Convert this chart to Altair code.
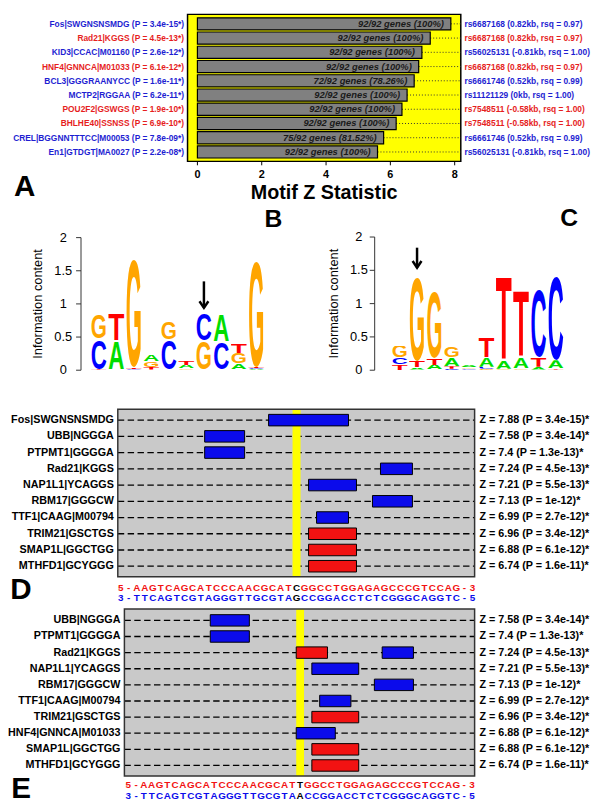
import urllib.parse
import altair as alt
import pandas as pd

FONT = "Liberation Sans"
TXT_BLUE = "#1E1ED2"
TXT_RED = "#E61E1E"
FILL_BLUE = "#0B0BEB"
FILL_RED = "#F21212"
LOGO_COLORS = {"A": "#00DD00", "C": "#0000FF", "G": "#FFA500", "T": "#FF0000"}

# ---------------- Panel A data ----------------
a_motifs = ["Fos|SWGNSNSMDG", "Rad21|KGGS", "KID3|CCAC|M01160", "HNF4|GNNCA|M01033",
            "BCL3|GGGRAANYCC", "MCTP2|RGGAA", "POU2F2|GSWGS", "BHLHE40|SSNSS",
            "CREL|BGGNNTTTCC|M00053", "En1|GTDGT|MA0027"]
a_pvals = ["3.4e-15", "4.5e-13", "2.6e-12", "6.1e-12", "1.6e-11", "6.2e-11",
           "1.9e-10", "6.9e-10", "7.8e-09", "2.2e-08"]
a_z = [7.88, 7.24, 6.98, 6.88, 6.74, 6.52, 6.36, 6.18, 5.79, 5.60]
a_genes = [92, 92, 92, 92, 72, 92, 92, 92, 75, 92]
a_total = 92
a_snp = ["rs6687168", "rs6687168", "rs56025131", "rs6687168", "rs6661746",
         "rs11121129", "rs7548511", "rs7548511", "rs6661746", "rs56025131"]
a_dist = ["0.82kb", "0.82kb", "-0.81kb", "0.82kb", "0.52kb", "0kb",
          "-0.58kb", "-0.58kb", "0.52kb", "-0.81kb"]
a_rsq = ["0.97", "0.97", "1.00", "0.97", "0.99", "1.00", "1.00", "1.00", "0.99", "1.00"]
a_strand = ["blue", "red", "blue", "red", "blue", "blue", "red", "red", "blue", "blue"]
a_ticks = [0, 2, 4, 6, 8]

# ---------------- Panel B / C logo data (bottom -> top) ----------------
b_stacks = [
    [("A", 0.01), ("T", 0.01), ("C", 0.46), ("G", 0.36)],
    [("C", 0.01), ("A", 0.44), ("T", 0.40)],
    [("A", 0.01), ("C", 0.01), ("T", 0.02), ("G", 1.66)],
    [("C", 0.01), ("T", 0.04), ("G", 0.09), ("A", 0.11)],
    [("A", 0.01), ("C", 0.46), ("G", 0.26)],
    [("C", 0.01), ("G", 0.02), ("A", 0.05), ("T", 0.06)],
    [("A", 0.01), ("G", 0.44), ("C", 0.40)],
    [("G", 0.01), ("C", 0.42), ("A", 0.41)],
    [("C", 0.01), ("A", 0.09), ("G", 0.16), ("T", 0.14)],
    [("A", 0.02), ("C", 0.01), ("T", 0.02), ("G", 1.65)],
]
b_arrow_col, b_arrow_top, b_arrow_tip = 7, 1.34, 0.94

c_stacks = [
    [("T", 0.09), ("C", 0.10), ("G", 0.18)],
    [("C", 0.01), ("A", 0.03), ("T", 0.10), ("G", 1.28)],
    [("C", 0.01), ("A", 0.07), ("T", 0.10), ("G", 1.02)],
    [("C", 0.02), ("T", 0.04), ("A", 0.13), ("G", 0.16)],
    [("T", 0.01), ("C", 0.015), ("G", 0.02), ("A", 0.03)],
    [("G", 0.02), ("C", 0.03), ("A", 0.15), ("T", 0.30)],
    [("C", 0.01), ("G", 0.01), ("A", 0.13), ("T", 1.28)],
    [("C", 0.01), ("G", 0.02), ("A", 0.17), ("T", 1.03)],
    [("G", 0.01), ("A", 0.04), ("T", 0.15), ("C", 1.05)],
    [("G", 0.01), ("T", 0.02), ("A", 0.12), ("C", 1.28)],
]
c_arrow_col, c_arrow_top, c_arrow_tip = 2, 1.84, 1.54
logo_ticks = [0, 0.5, 1, 1.5, 2]

# ---------------- Panel D data ----------------
d_motifs = ["Fos|SWGNSNSMDG", "UBB|NGGGA", "PTPMT1|GGGGA", "Rad21|KGGS", "NAP1L1|YCAGGS",
            "RBM17|GGGCW", "TTF1|CAAG|M00794", "TRIM21|GSCTGS", "SMAP1L|GGCTGG", "MTHFD1|GCYGGG"]
d_z = ["7.88", "7.58", "7.4", "7.24", "7.21", "7.13", "6.99", "6.96", "6.88", "6.74"]
d_p = ["3.4e-15", "3.4e-14", "1.3e-13", "4.5e-13", "5.5e-13", "1e-12", "2.7e-12",
       "3.4e-12", "6.1e-12", "1.6e-11"]
d_hit_row = [0, 1, 2, 3, 4, 5, 6, 7, 8, 9]
d_hit_start = [-3, -11, -11, 11, 2, 10, 3, 2, 2, 2]
d_hit_len = [10, 5, 5, 4, 6, 5, 4, 6, 6, 6]
d_hit_strand = ["blue", "blue", "blue", "blue", "blue", "blue", "blue", "red", "red", "red"]
d_top = "AAGTCAGCATCCCAACGCATCGGCCTGGAGAGCCCGTCCAG"
d_bottom = "TTCAGTCGTAGGGTTGCGTAGCCGGACCTCTCGGGCAGGTC"

# ---------------- Panel E data ----------------
e_motifs = ["UBB|NGGGA", "PTPMT1|GGGGA", "Rad21|KGGS", "NAP1L1|YCAGGS", "RBM17|GGGCW",
            "TTF1|CAAG|M00794", "TRIM21|GSCTGS", "HNF4|GNNCA|M01033", "SMAP1L|GGCTGG",
            "MTHFD1|GCYGGG"]
e_z = ["7.58", "7.4", "7.24", "7.21", "7.13", "6.99", "6.96", "6.88", "6.88", "6.74"]
e_p = ["3.4e-14", "1.3e-13", "4.5e-13", "5.5e-13", "1e-12", "2.7e-12", "3.4e-12",
       "6.1e-12", "6.1e-12", "1.6e-11"]
e_hit_row = [0, 1, 2, 2, 3, 4, 5, 6, 7, 8, 9]
e_hit_start = [-11, -11, 0, 11, 2, 10, 3, 2, 0, 2, 2]
e_hit_len = [5, 5, 4, 4, 6, 5, 4, 6, 5, 6, 6]
e_hit_strand = ["blue", "blue", "red", "blue", "blue", "blue", "blue", "red", "blue", "red", "red"]
e_top = "AAGTCAGCATCCCAACGCATTGGCCTGGAGAGCCCGTCCAG"
e_bottom = "TTCAGTCGTAGGGTTGCGTAACCGGACCTCTCGGGCAGGTC"


def scale(dom, rng):
    return alt.Scale(domain=dom, range=rng, nice=False, zero=False)


def px_per_unit(dom, rng):
    return abs(rng[1] - rng[0]) / abs(dom[1] - dom[0])


def tcolor(s):
    return TXT_BLUE if s == "blue" else TXT_RED


def fcolor(s):
    return FILL_BLUE if s == "blue" else FILL_RED


# ================= Panel A =================
A_XDOM, A_XRNG = [-0.307, 8.19], [182, 459]
A_YDOM, A_YRNG = [-0.665, 9.66], [1, 150]
AX, AY = scale(A_XDOM, A_XRNG), scale(A_YDOM, A_YRNG)
A_PXROW = px_per_unit(A_YDOM, A_YRNG)


def axy(xf, yf):
    return dict(x=alt.X(xf, scale=AX, axis=None), y=alt.Y(yf, scale=AY, axis=None))


df_a = pd.DataFrame({
    "row": list(range(len(a_z))),
    "z": a_z,
    "left": [f"{m} (P = {p}*)" for m, p in zip(a_motifs, a_pvals)],
    "gtext": [f"{g}/{a_total} genes ({round(100 * g / a_total, 2):g}%)" for g in a_genes],
    "right": [f"{s} ({d}, rsq = {r})" for s, d, r in zip(a_snp, a_dist, a_rsq)],
    "tcol": [tcolor(s) for s in a_strand],
})
df_a["y0"] = df_a["row"] - 0.425
df_a["y1"] = df_a["row"] + 0.425
df_a["x0"] = 0.0
df_a["xlo"] = A_XDOM[0]
df_a["xhi"] = A_XDOM[1]
frame_a = pd.DataFrame({"x0": [A_XDOM[0]], "x1": [A_XDOM[1]], "y0": [A_YDOM[0]], "y1": [A_YDOM[1]]})
ticks_a = pd.DataFrame({"t": a_ticks, "lab": [str(t) for t in a_ticks],
                        "y0": A_YDOM[1], "y1": A_YDOM[1] + 4 / A_PXROW})
title_a = pd.DataFrame({"x": [(A_XDOM[0] + A_XDOM[1]) / 2], "y": [A_YDOM[1]], "t": ["Motif Z Statistic"]})

pa_frame = alt.Chart(frame_a).mark_rect(fill="#FFFF00", stroke="black", strokeWidth=1.5).encode(
    **axy("x0:Q", "y0:Q"), x2="x1:Q", y2="y1:Q")
pa_dots = alt.Chart(df_a).mark_rule(strokeDash=[1, 2], color="#333333", strokeWidth=1).encode(
    **axy("z:Q", "row:Q"), x2="xhi:Q")
pa_bars = alt.Chart(df_a).mark_rect(fill="#808080", stroke="black", strokeWidth=1.2).encode(
    **axy("x0:Q", "y0:Q"), x2="z:Q", y2="y1:Q")
pa_btext = alt.Chart(df_a).mark_text(align="right", baseline="middle", dx=-7, font=FONT,
                                     fontSize=9.5, fontStyle="italic", fontWeight="bold",
                                     color="#1A1A1A").encode(**axy("z:Q", "row:Q"), text="gtext:N")
pa_left = alt.Chart(df_a).mark_text(align="right", baseline="middle", dx=-3.5, font=FONT,
                                    fontSize=8.5, fontWeight="bold").encode(
    **axy("xlo:Q", "row:Q"), text="left:N", color=alt.Color("tcol:N", scale=None))
pa_right = alt.Chart(df_a).mark_text(align="left", baseline="middle", dx=3.7, font=FONT,
                                     fontSize=8.5, fontWeight="bold").encode(
    **axy("xhi:Q", "row:Q"), text="right:N", color=alt.Color("tcol:N", scale=None))
pa_ticks = alt.Chart(ticks_a).mark_rule(color="black", strokeWidth=1).encode(
    **axy("t:Q", "y0:Q"), y2="y1:Q")
pa_tlabs = alt.Chart(ticks_a).mark_text(baseline="middle", dy=14, font=FONT, fontSize=11,
                                        fontWeight="bold", color="black").encode(
    **axy("t:Q", "y0:Q"), text="lab:N")
pa_title = alt.Chart(title_a).mark_text(baseline="middle", dy=31.7, font=FONT, fontSize=20,
                                        fontWeight="bold", color="black").encode(
    **axy("x:Q", "y:Q"), text="t:N")
pa_letter = alt.Chart(pd.DataFrame({"x": [-5.37], "y": [11.45], "t": ["A"]})).mark_text(
    font=FONT, fontSize=30, fontWeight="bold", color="black", baseline="middle").encode(
    **axy("x:Q", "y:Q"), text="t:N")
panel_a = alt.layer(pa_frame, pa_dots, pa_bars, pa_btext, pa_left, pa_right,
                    pa_ticks, pa_tlabs, pa_title, pa_letter)


# ================= Panels B / C (sequence logos) =================
def letter_uri(ch):
    svg = ("<svg xmlns='http://www.w3.org/2000/svg' width='100' height='100' "
           "viewBox='0 0 100 100' preserveAspectRatio='none'>"
           "<text x='50' y='98.8' text-anchor='middle' font-family='Liberation Sans, Arial, sans-serif' "
           "font-weight='bold' font-size='136' textLength='96' lengthAdjust='spacingAndGlyphs' "
           f"fill='{LOGO_COLORS[ch]}'>{ch}</text></svg>")
    return "data:image/svg+xml;charset=utf-8," + urllib.parse.quote(svg, safe="")


def logo_df(stacks):
    rows = []
    for i, stack in enumerate(stacks, start=1):
        base = 0.0
        for letter, h in stack:
            rows.append({"x0": i - 0.48, "x1": i + 0.48, "y0": base, "y1": base + h,
                         "uri": letter_uri(letter)})
            base += h
    return pd.DataFrame(rows)


def logo_panel(stacks, xrng, yrng, axis_px, lab_off, title_off, arrow, letter, letter_xy):
    XDOM, YDOM = [0.5, 10.5], [0, 2]
    X, Y = scale(XDOM, xrng), scale(YDOM, yrng)
    pxc = px_per_unit(XDOM, xrng)
    ax_x = XDOM[0] + (axis_px - xrng[0]) / pxc

    def xy(xf, yf):
        return dict(x=alt.X(xf, scale=X, axis=None), y=alt.Y(yf, scale=Y, axis=None))

    letters = alt.Chart(logo_df(stacks)).mark_image(aspect=False).encode(
        **xy("x0:Q", "y0:Q"), x2="x1:Q", y2="y1:Q", url="uri:N")
    tdf = pd.DataFrame({"v": logo_ticks, "lab": [f"{v:g}" for v in logo_ticks],
                        "ax": ax_x, "tx": ax_x - 5 / pxc, "lx": ax_x - lab_off / pxc})
    ldf = pd.DataFrame({"ax": [ax_x], "y0": [YDOM[0]], "y1": [YDOM[1]]})
    ttl = pd.DataFrame({"x": [ax_x - title_off / pxc], "y": [1.0], "t": ["Information content"]})
    dom_line = alt.Chart(ldf).mark_rule(color="#333333", strokeWidth=1).encode(
        **xy("ax:Q", "y0:Q"), y2="y1:Q")
    ticks = alt.Chart(tdf).mark_rule(color="#333333", strokeWidth=1).encode(
        **xy("ax:Q", "v:Q"), x2="tx:Q")
    tlabs = alt.Chart(tdf).mark_text(align="center", baseline="middle", font=FONT, fontSize=13,
                                     color="black").encode(**xy("lx:Q", "v:Q"), text="lab:N")
    title = alt.Chart(ttl).mark_text(align="center", baseline="middle", angle=270, font=FONT,
                                     fontSize=13, color="black").encode(**xy("x:Q", "y:Q"), text="t:N")
    adf = pd.DataFrame({"col": [arrow[0]], "top": [arrow[1]], "tip": [arrow[2]]})
    shaft = alt.Chart(adf).mark_rule(color="black", strokeWidth=2.5).encode(
        **xy("col:Q", "top:Q"), y2="tip:Q")
    head = alt.Chart(adf).mark_point(shape="M-1,-1.5L0,0L1,-1.5", filled=False, size=81,
                                     strokeWidth=2.5, color="black", opacity=1).encode(
        **xy("col:Q", "tip:Q"))
    lab = alt.Chart(pd.DataFrame({"x": [letter_xy[0]], "y": [letter_xy[1]], "t": [letter]})).mark_text(
        font=FONT, fontSize=25, fontWeight="bold", color="black", baseline="middle").encode(
        **xy("x:Q", "y:Q"), text="t:N")
    return alt.layer(letters, dom_line, ticks, tlabs, title, shaft, head, lab)


panel_b = logo_panel(b_stacks, [83.3, 260.7], [361.7, 227.3], 74, 18, 43.3,
                     (b_arrow_col, b_arrow_top, b_arrow_tip), "B", (10.97, 2.28))
panel_c = logo_panel(c_stacks, [388.3, 564], [361.7, 226.7], 371.7, 16, 41,
                     (c_arrow_col, c_arrow_top, c_arrow_tip), "C", (10.78, 2.29))


# ================= Panels D / E (motif tracks) =================
def track_panel(motifs, zs, ps, hit_row, hit_start, hit_len, hit_strand, top, bottom,
                xdom, xrng, ydom, yrng, seq_rows, letter, letter_xy):
    X, Y = scale(xdom, xrng), scale(ydom, yrng)
    n = len(motifs)
    rows = pd.DataFrame({
        "row": list(range(n)),
        "name": motifs,
        "ztext": [f"Z = {z} (P = {p})*" for z, p in zip(zs, ps)],
        "xlo": xdom[0], "xhi": xdom[1],
    })
    frame = pd.DataFrame({"x0": [xdom[0]], "x1": [xdom[1]], "y0": [ydom[0]], "y1": [ydom[1]]})
    snp = pd.DataFrame({"x0": [-0.5], "x1": [0.5], "y0": [ydom[0]], "y1": [ydom[1]]})
    hits = pd.DataFrame({"row": hit_row, "start": hit_start, "len": hit_len,
                         "fill": [fcolor(s) for s in hit_strand]})
    hits["x0"] = hits["start"] - 0.5
    hits["x1"] = hits["start"] + hits["len"] - 0.5
    hits["y0"] = hits["row"] - 0.355
    hits["y1"] = hits["row"] + 0.355

    half = len(top) // 2
    pos = [-half - 2, -half - 1] + list(range(-half, half + 1)) + [half + 1, half + 2]
    seq_rows_list = []
    for chars, color, rowy in (
            (["5", "-"] + list(top) + ["-", "3"], FILL_RED, seq_rows[0]),
            (["3", "-"] + list(bottom) + ["-", "5"], FILL_BLUE, seq_rows[1])):
        for p, ch in zip(pos, chars):
            seq_rows_list.append({"pos": p, "ch": ch, "y": rowy,
                                  "col": "black" if p == 0 else color})
    seq = pd.DataFrame(seq_rows_list)

    def xy(xf, yf):
        return dict(x=alt.X(xf, scale=X, axis=None), y=alt.Y(yf, scale=Y, axis=None))

    bg = alt.Chart(frame).mark_rect(fill="#C9C9C9").encode(**xy("x0:Q", "y0:Q"), x2="x1:Q", y2="y1:Q")
    dashes = alt.Chart(rows).mark_rule(color="black", strokeWidth=1.3, strokeDash=[6.5, 3.5]).encode(
        **xy("xlo:Q", "row:Q"), x2="xhi:Q")
    band = alt.Chart(snp).mark_rect(fill="#FFFF00").encode(**xy("x0:Q", "y0:Q"), x2="x1:Q", y2="y1:Q")
    boxes = alt.Chart(hits).mark_rect(stroke="black", strokeWidth=1).encode(
        **xy("x0:Q", "y0:Q"), x2="x1:Q", y2="y1:Q", fill=alt.Fill("fill:N", scale=None))
    border = alt.Chart(frame).mark_rect(fillOpacity=0, stroke="#333333", strokeWidth=1.5).encode(
        **xy("x0:Q", "y0:Q"), x2="x1:Q", y2="y1:Q")
    left = alt.Chart(rows).mark_text(align="right", baseline="middle", dx=-4, font=FONT,
                                     fontSize=10.9, fontWeight="bold", color="black").encode(
        **xy("xlo:Q", "row:Q"), text="name:N")
    right = alt.Chart(rows).mark_text(align="left", baseline="middle", dx=5, font=FONT,
                                      fontSize=10.9, fontWeight="bold", color="black").encode(
        **xy("xhi:Q", "row:Q"), text="ztext:N")
    seqtxt = alt.Chart(seq).mark_text(align="center", baseline="middle", font=FONT,
                                      fontSize=10, fontWeight="bold").encode(
        **xy("pos:Q", "y:Q"), text="ch:N", color=alt.Color("col:N", scale=None))
    lab = alt.Chart(pd.DataFrame({"x": [letter_xy[0]], "y": [letter_xy[1]], "t": [letter]})).mark_text(
        font=FONT, fontSize=30, fontWeight="bold", color="black", baseline="middle").encode(
        **xy("x:Q", "y:Q"), text="t:N")
    return alt.layer(bg, dashes, band, boxes, border, left, right, seqtxt, lab)


panel_d = track_panel(d_motifs, d_z, d_p, d_hit_row, d_hit_start, d_hit_len, d_hit_strand,
                      d_top, d_bottom, [-22.37, 22.28], [111.3, 473], [-0.669, 9.644],
                      [401.3, 571], (10.32, 10.99), "D", (-34.5, 10.5))
panel_e = track_panel(e_motifs, e_z, e_p, e_hit_row, e_hit_start, e_hit_len, e_hit_strand,
                      e_top, e_bottom, [-22.49, 22.33], [118, 473], [-0.71, 9.65],
                      [603.7, 773], (10.2, 10.875), "E", (-35.7, 10.45))

chart = alt.layer(panel_a, panel_b, panel_c, panel_d, panel_e).resolve_scale(
    x="independent", y="independent").properties(
    width=592, height=798, padding=0, autosize=alt.AutoSizeParams(type="none")
).configure_view(stroke=None)

chart.save("out.html", embed_options={"renderer": "svg", "actions": False})
